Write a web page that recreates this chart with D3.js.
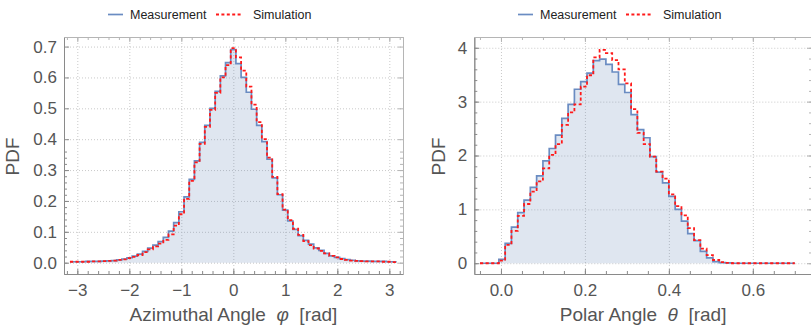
<!DOCTYPE html>
<html>
<head>
<meta charset="utf-8">
<script src="https://cdn.jsdelivr.net/npm/d3@7"></script>
<style>
body { margin: 0; background: #fff; }
svg { font-family: "Liberation Sans", Arial, sans-serif; }
</style>
</head>
<body>
<svg id="chart" width="811" height="325"></svg>
<script>
// Histogram bins: azimuthal angle (phi), 63 bins over [-pi, pi]
const phiStart = -Math.PI;
const phiWidth = 2 * Math.PI / 63;
const phiMeasurement = [
  0.003, 0.003, 0.003, 0.004, 0.004, 0.004, 0.005, 0.006, 0.007, 0.009,
  0.012, 0.016, 0.021, 0.028, 0.037, 0.047, 0.057, 0.068, 0.082, 0.102,
  0.13, 0.165, 0.213, 0.27, 0.33, 0.39, 0.445, 0.5, 0.555, 0.605,
  0.648, 0.69,
  0.645, 0.6, 0.552, 0.497, 0.445, 0.392, 0.335, 0.275, 0.22, 0.17,
  0.135, 0.108, 0.088, 0.072, 0.06, 0.048, 0.04, 0.03, 0.022, 0.017,
  0.013, 0.01, 0.008, 0.006, 0.005, 0.005, 0.004, 0.004, 0.004, 0.003, 0.003
];
const phiSimulation = [
  0.003, 0.003, 0.003, 0.003, 0.004, 0.004, 0.005, 0.006, 0.007, 0.009,
  0.011, 0.015, 0.019, 0.025, 0.034, 0.043, 0.053, 0.062, 0.074, 0.092,
  0.12, 0.157, 0.207, 0.265, 0.325, 0.385, 0.44, 0.495, 0.55, 0.6,
  0.64, 0.695,
  0.665, 0.622, 0.57, 0.512, 0.455, 0.4, 0.34, 0.278, 0.222, 0.172,
  0.138, 0.11, 0.09, 0.07, 0.057, 0.046, 0.038, 0.03, 0.022, 0.017,
  0.012, 0.009, 0.007, 0.006, 0.005, 0.004, 0.004, 0.004, 0.003, 0.003, 0.002
];

// Histogram bins: polar angle (theta), 50 bins of 0.015 rad from -0.05
const thetaStart = -0.05;
const thetaWidth = 0.015;
const thetaMeasurement = [
  0, 0, 0, 0.07, 0.37, 0.67, 0.94, 1.17, 1.41, 1.62,
  1.90, 2.13, 2.38, 2.69, 2.95, 3.23, 3.37, 3.53, 3.76, 3.79,
  3.69, 3.55, 3.32, 3.17, 2.76, 2.48, 2.33, 1.98, 1.69, 1.49,
  1.24, 1.00, 0.78, 0.55, 0.42, 0.22, 0.10, 0.03, 0.01, 0.005,
  0, 0, 0, 0, 0, 0, 0, 0, 0, 0
];
const thetaSimulation = [
  0, 0, 0, 0.05, 0.34, 0.60, 0.88, 1.10, 1.33, 1.52,
  1.76, 2.01, 2.21, 2.57, 2.80, 2.95, 3.28, 3.49, 3.82, 3.96,
  3.90, 3.77, 3.60, 3.34, 2.86, 2.42, 2.21, 1.98, 1.70, 1.57,
  1.28, 1.06, 0.89, 0.65, 0.43, 0.27, 0.15, 0.06, 0.02, 0.005,
  0, 0, 0, 0, 0, 0, 0, 0, 0, 0
];

// Tick values
const phiTicks = [-3, -2, -1, 0, 1, 2, 3];
const phiPdfTicks = [0, 0.1, 0.2, 0.3, 0.4, 0.5, 0.6, 0.7];
const thetaTicks = [0, 0.2, 0.4, 0.6];
const thetaPdfTicks = [0, 1, 2, 3, 4];

const legendLabels = ["Measurement", "Simulation"];

const measColor = "#6a8cc2";
const simColor = "#ff1a1a";
const fillColor = "#5e81b5";

const svg = d3.select("#chart");

function drawPanel(cfg) {
  const x = d3.scaleLinear().domain(cfg.xDomain).range([cfg.left, cfg.right]);
  const y = d3.scaleLinear().domain(cfg.yDomain).range([cfg.bottom, cfg.top]);
  const g = svg.append("g");

  const clipId = "clip" + cfg.id;
  g.append("clipPath").attr("id", clipId)
    .append("rect")
    .attr("x", cfg.left).attr("y", cfg.top)
    .attr("width", cfg.right - cfg.left).attr("height", cfg.bottom - cfg.top);

  // grille pointillee
  const grid = g.append("g").attr("stroke", "#c9c9c9").attr("stroke-width", 1)
    .attr("stroke-dasharray", "1,2");
  grid.selectAll(".gx").data(cfg.xTicks).enter().append("line")
    .attr("x1", d => x(d) + 0.5).attr("x2", d => x(d) + 0.5)
    .attr("y1", cfg.top).attr("y2", cfg.bottom);
  grid.selectAll(".gy").data(cfg.yTicks).enter().append("line")
    .attr("x1", cfg.left).attr("x2", cfg.right)
    .attr("y1", d => y(d) + 0.5).attr("y2", d => y(d) + 0.5);

  // points des histogrammes (marches)
  function steps(vals) {
    const pts = vals.map((v, i) => [cfg.start + i * cfg.width, v]);
    pts.push([cfg.start + vals.length * cfg.width, vals[vals.length - 1]]);
    return pts;
  }

  const plot = g.append("g").attr("clip-path", `url(#${clipId})`);

  plot.append("path")
    .datum(steps(cfg.meas))
    .attr("fill", fillColor).attr("fill-opacity", 0.2)
    .attr("d", d3.area().curve(d3.curveStepAfter)
      .x(d => x(d[0])).y0(y(0)).y1(d => y(d[1])));

  plot.append("path")
    .datum(steps(cfg.meas))
    .attr("fill", "none").attr("stroke", measColor).attr("stroke-width", 1.7)
    .attr("stroke-linejoin", "miter")
    .attr("d", d3.line().curve(d3.curveStepAfter).x(d => x(d[0])).y(d => y(d[1])));

  plot.append("path")
    .datum(steps(cfg.sim))
    .attr("fill", "none").attr("stroke", simColor).attr("stroke-width", 1.8)
    .attr("stroke-dasharray", "3.2,2.4")
    .attr("d", d3.line().curve(d3.curveStepAfter).x(d => x(d[0])).y(d => y(d[1])));

  // cadre et graduations vers l'interieur
  const darkFrame = "#8a8a8a", lightFrame = "#b5b5b5";
  function styleAxis(sel, color) {
    sel.select(".domain").attr("stroke", color);
    sel.selectAll(".tick line").attr("stroke", color);
    sel.selectAll(".tick text").attr("fill", "#555").attr("font-size", "17px");
  }

  const bottomMinor = g.append("g").attr("transform", `translate(0,${cfg.bottom})`)
    .call(d3.axisBottom(x).tickValues(cfg.xMinor).tickSize(-3).tickSizeOuter(0).tickFormat(""));
  styleAxis(bottomMinor, darkFrame);
  const bottom = g.append("g").attr("transform", `translate(0,${cfg.bottom})`)
    .call(d3.axisBottom(x).tickValues(cfg.xTicks).tickSize(-5).tickSizeOuter(0)
      .tickPadding(10).tickFormat(cfg.xFormat));
  styleAxis(bottom, darkFrame);

  const leftMinor = g.append("g").attr("transform", `translate(${cfg.left},0)`)
    .call(d3.axisLeft(y).tickValues(cfg.yMinor).tickSize(-3).tickSizeOuter(0).tickFormat(""));
  styleAxis(leftMinor, darkFrame);
  const left = g.append("g").attr("transform", `translate(${cfg.left},0)`)
    .call(d3.axisLeft(y).tickValues(cfg.yTicks).tickSize(-5).tickSizeOuter(0)
      .tickPadding(7).tickFormat(cfg.yFormat));
  styleAxis(left, darkFrame);

  const topMinor = g.append("g").attr("transform", `translate(0,${cfg.top})`)
    .call(d3.axisTop(x).tickValues(cfg.xMinor).tickSize(-3).tickSizeOuter(0).tickFormat(""));
  styleAxis(topMinor, lightFrame);
  const top = g.append("g").attr("transform", `translate(0,${cfg.top})`)
    .call(d3.axisTop(x).tickValues(cfg.xTicks).tickSize(-5).tickSizeOuter(0).tickFormat(""));
  styleAxis(top, lightFrame);

  const rightMinor = g.append("g").attr("transform", `translate(${cfg.right},0)`)
    .call(d3.axisRight(y).tickValues(cfg.yMinor).tickSize(-3).tickSizeOuter(0).tickFormat(""));
  styleAxis(rightMinor, lightFrame);
  const right = g.append("g").attr("transform", `translate(${cfg.right},0)`)
    .call(d3.axisRight(y).tickValues(cfg.yTicks).tickSize(-5).tickSizeOuter(0).tickFormat(""));
  styleAxis(right, lightFrame);

  // titre axe x
  const xt = g.append("text")
    .attr("x", (cfg.left + cfg.right) / 2).attr("y", 321)
    .attr("text-anchor", "middle").attr("font-size", "19px").attr("fill", "#555")
    .style("white-space", "pre");
  xt.append("tspan").text(cfg.xTitle[0] + "  ");
  xt.append("tspan").attr("font-style", "italic").text(cfg.xTitle[1]);
  xt.append("tspan").text("  " + cfg.xTitle[2]);

  // titre axe y
  g.append("text")
    .attr("transform", `translate(${cfg.left - cfg.yTitleGap},${(cfg.top + cfg.bottom) / 2 + 1}) rotate(-90)`)
    .attr("text-anchor", "middle").attr("font-size", "19px").attr("fill", "#555")
    .text("PDF");

  // legende
  const lg = g.append("g").attr("font-size", "12.5px").attr("fill", "#222");
  lg.append("line").attr("x1", cfg.legendX).attr("x2", cfg.legendX + 15)
    .attr("y1", 14.5).attr("y2", 14.5).attr("stroke", measColor).attr("stroke-width", 1.7);
  lg.append("text").attr("x", cfg.legendX + 22).attr("y", 19).text(legendLabels[0]);
  lg.append("line").attr("x1", cfg.legendX + 108).attr("x2", cfg.legendX + 135)
    .attr("y1", 14.5).attr("y2", 14.5).attr("stroke", simColor).attr("stroke-width", 1.8)
    .attr("stroke-dasharray", "3,2.4");
  lg.append("text").attr("x", cfg.legendX + 145).attr("y", 19).text(legendLabels[1]);
}

drawPanel({
  id: "phi",
  left: 64, right: 403, top: 37, bottom: 274,
  xDomain: [-3.256, 3.263], yDomain: [-0.0366, 0.731],
  start: phiStart, width: phiWidth,
  meas: phiMeasurement, sim: phiSimulation,
  xTicks: phiTicks, yTicks: phiPdfTicks,
  xMinor: d3.range(-32, 33, 2).map(d => d / 10),
  yMinor: d3.range(0, 37, 2).map(d => d / 100),
  xFormat: d3.format("d"), yFormat: d3.format(".1f"),
  xTitle: ["Azimuthal Angle", "\u03c6", "[rad]"],
  yTitleGap: 45,
  legendX: 108
});

drawPanel({
  id: "theta",
  left: 474.3, right: 812, top: 37, bottom: 274,
  xDomain: [-0.0635, 0.741], yDomain: [-0.2, 4.2],
  start: thetaStart, width: thetaWidth,
  meas: thetaMeasurement, sim: thetaSimulation,
  xTicks: thetaTicks, yTicks: thetaPdfTicks,
  xMinor: d3.range(-1, 16, 1).map(d => d / 20),
  yMinor: d3.range(0, 21, 1).map(d => d / 5),
  xFormat: d3.format(".1f"), yFormat: d3.format("d"),
  xTitle: ["Polar Angle", "\u03b8", "[rad]"],
  yTitleGap: 29,
  legendX: 518
});
</script>
</body>
</html>
